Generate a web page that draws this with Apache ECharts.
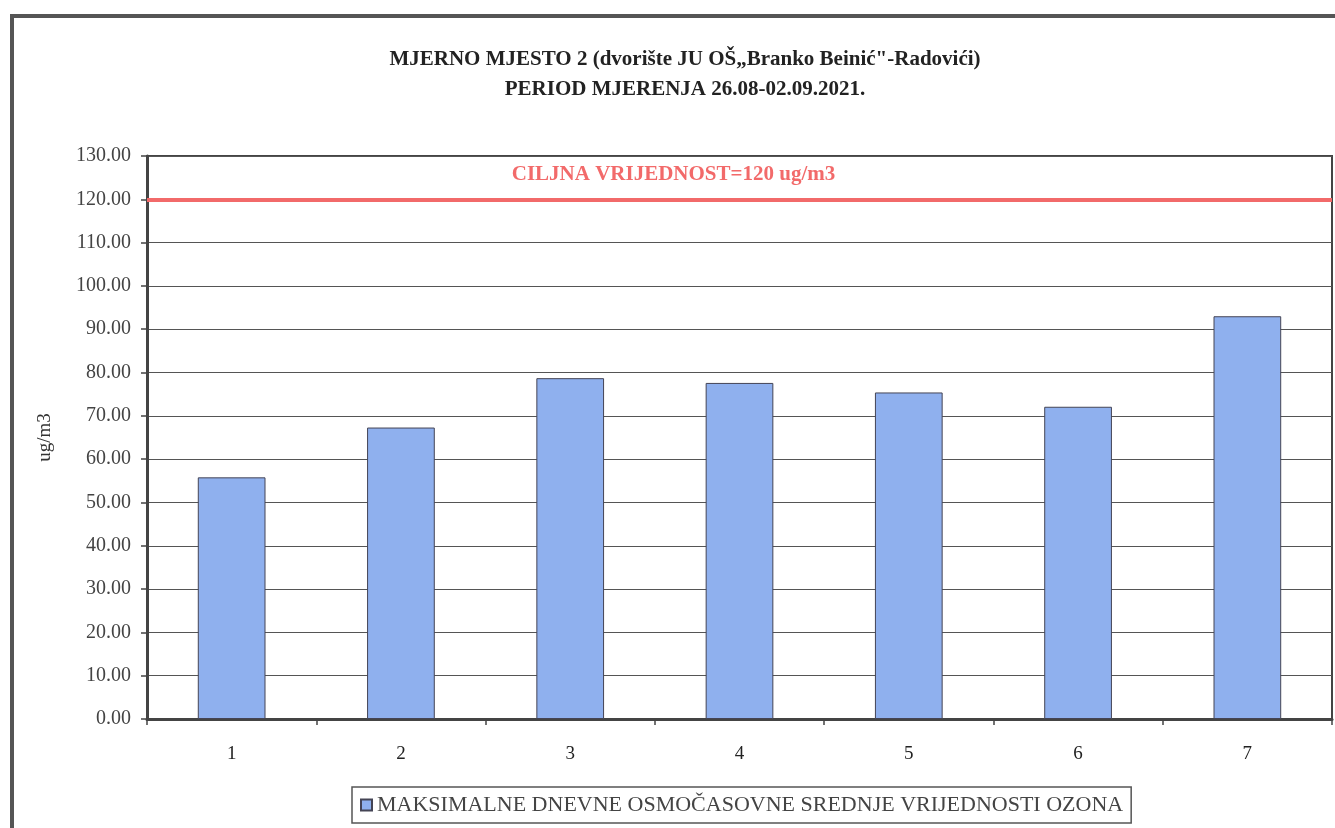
<!DOCTYPE html>
<html>
<head>
<meta charset="utf-8">
<script src="https://cdn.jsdelivr.net/npm/echarts@6/dist/echarts.min.js"></script>
<style>html,body{margin:0;padding:0;background:#fff}#c{width:1335px;height:828px}</style>
</head>
<body>
<div id="c"></div>
<script>
const titleLines = ['MJERNO MJESTO 2 (dvorište JU OŠ„Branko Beinić"-Radovići)', 'PERIOD MJERENJA 26.08-02.09.2021.'];
const categories = ['1', '2', '3', '4', '5', '6', '7'];
const ozoneValues = [55.8, 67.3, 78.7, 77.6, 75.4, 72.1, 93.0];
const targetValue = 120;
const targetLabel = 'CILJNA VRIJEDNOST=120 ug/m3';
const seriesName = 'MAKSIMALNE DNEVNE OSMOČASOVNE SREDNJE VRIJEDNOSTI OZONA';
const yAxisName = 'ug/m3';

const serif = '"Liberation Serif", "DejaVu Serif", serif';
const chart = echarts.init(document.getElementById('c'));
chart.setOption({
  animation: false,
  backgroundColor: '#fff',
  title: {
    text: titleLines.join('\n'),
    left: 680, top: 40, textAlign: 'center',
    textStyle: {fontFamily: serif, fontSize: 21, fontWeight: 'bold', color: '#222', lineHeight: 30}
  },
  graphic: [
    {type: 'polyline', shape: {points: [[12, 828], [12, 16], [1335, 16]]}, style: {stroke: '#555', lineWidth: 4, fill: null}, z: 10}
  ],
  legend: {
    data: [seriesName],
    left: 352, top: 787, width: 778,
    padding: [7, 8, 7, 8],
    borderColor: '#555', borderWidth: 1.5,
    itemWidth: 11, itemHeight: 11, itemGap: 4,
    icon: 'rect',
    textStyle: {fontFamily: serif, fontSize: 22, color: '#444'}
  },
  grid: {left: 147, right: 3, top: 156, bottom: 109, show: true, borderColor: '#444', borderWidth: 2},
  xAxis: {
    type: 'category', data: categories,
    axisLine: {lineStyle: {color: '#444', width: 3}},
    axisTick: {show: true, length: 6, lineStyle: {color: '#444', width: 1.5}},
    axisLabel: {fontFamily: serif, fontSize: 19, color: '#222', margin: 26}
  },
  yAxis: {
    type: 'value', min: 0, max: 130, interval: 10,
    name: yAxisName, nameLocation: 'middle', nameGap: 92, nameRotate: 90,
    nameTextStyle: {fontFamily: serif, fontSize: 19, color: '#333'},
    axisLine: {show: true, lineStyle: {color: '#444', width: 3}},
    axisTick: {show: true, length: 6, lineStyle: {color: '#444', width: 1.5}},
    axisLabel: {fontFamily: serif, fontSize: 20, color: '#444', margin: 16, formatter: v => v.toFixed(2)},
    splitLine: {lineStyle: {color: '#555', width: 1.2}}
  },
  series: [{
    name: seriesName, type: 'bar', data: ozoneValues,
    barCategoryGap: '60%',
    itemStyle: {color: '#8fb0ee', borderColor: '#445', borderWidth: 1},
    markLine: {
      symbol: 'none', silent: true,
      lineStyle: {color: '#f26a6a', width: 4, type: 'solid'},
      label: {
        show: true, position: 'insideMiddleTop', formatter: targetLabel,
        offset: [-66, -9],
        fontFamily: serif, fontSize: 21, fontWeight: 'bold', color: '#f26a6a'
      },
      data: [{yAxis: targetValue}]
    }
  }]
});
</script>
</body>
</html>
